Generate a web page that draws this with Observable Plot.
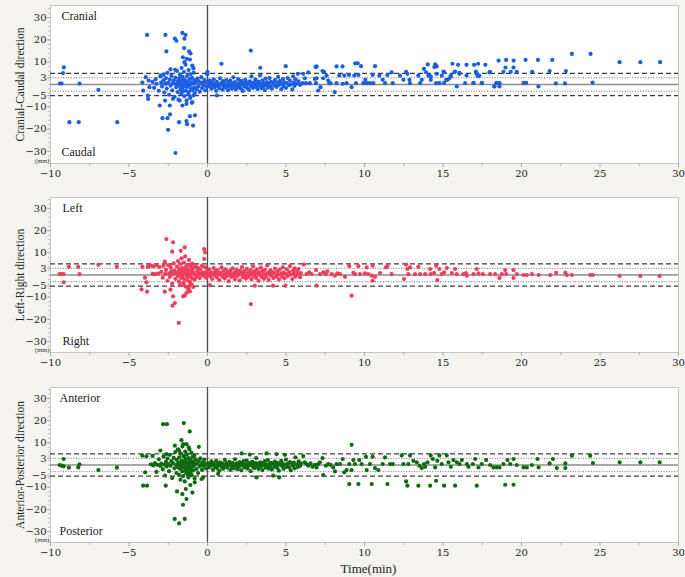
<!DOCTYPE html>
<html><head><meta charset="utf-8">
<script src="https://cdn.jsdelivr.net/npm/d3@7"></script>
<script src="https://cdn.jsdelivr.net/npm/@observablehq/plot@0.6"></script>
<style>
body{margin:0;background:#f4f3ef;}
#chart{position:relative;width:685px;height:577px;background:#f4f3ef;overflow:hidden;}
#chart svg{position:absolute;left:0;}
</style></head><body><div id="chart"></div>
<script>
// ---- axis ticks ----
const xTicks = [-10,-5,0,5,10,15,20,25,30];
const xMinorTicks = [-7.5,-2.5,2.5,7.5,12.5,17.5,22.5,27.5];
const yTicks = [30,20,10,3,-5,-10,-20,-30];
const yMinorTicks = [-34,-32,-30,-28,-26,-24,-22,-20,-18,-16,-14,-12,-10,-8,-6,-4,-2,0,2,4,6,8,10,12,14,16,18,20,22,24,26,28,30,32,34];
const meanLine = [0];
const innerLimits = [3,-3];
const outerLimits = [5,-5];

// ---- Cranial-Caudal (time in min, displacement in mm) ----
const ccPre = [[-9.15,7.7],[-9.2,5.1],[-9.4,0.45],[-9.3,0.45],[-8.15,0.4],[-8.8,-16.9],[-8.2,-16.9],[-6.95,-2.4],[-5.75,-16.9],[-4.15,0.9],[-4.1,-2.7],[-3.93,3.3],[-3.8,-5],[-3.78,-6.5],[-3.7,-1.2],[-3.75,1.8]];
const ccOutliers = [[-3.85,22.2],[-2.68,22.2],[-1.6,23.1],[-1.4,22.2],[-2.08,20.6],[-1.98,19.6],[-1.47,20.5],[-2.62,14.8],[-1.49,16.3],[-1.17,14.8],[-1.08,13.9],[-1.57,12.2],[-1.33,11.5],[-1.12,11.2],[-1.47,10],[-0.97,8.5],[-0.9,7.3],[-2.36,6.8],[-2.06,6.6],[-2.97,4.1],[-2.8,4.4],[-0.03,5],[-3.04,-9.4],[-2.4,-9.4],[-2.7,-7.2],[-2.87,-15.1],[-2.55,-15.1],[-2.39,-13.4],[-2.51,-20.3],[-1.81,-16.9],[-2.04,-30.7],[-1.3,-17.8],[-0.92,-18.4],[-1.34,-16.4],[-1.12,-14.2],[-0.8,-13.8],[-1.6,-9.4],[-1.34,-8.7],[-0.97,-7.9],[-2.2,-6.4],[-1.77,-7.2],[0.89,9.3],[2.76,15.2],[3.36,7.5],[4.98,8.2],[0.6,-4.9],[0.0,5.7]];
const ccCluster = [[-3.5,1.2],[-3.4,-1.5],[-3.3,2.4],[-3.25,0.3],[-3.1,-2.8],[-3.0,3.6],[-2.95,0.8],[-2.9,-0.9],[-2.8,1.9],[-2.75,-3.6],[-2.7,0.4],[-2.65,2.9],[-2.6,-1.8],[-2.55,5.2],[-2.5,0.9],[-2.45,-4.6],[-2.4,2.2],[-2.35,-0.5],[-2.3,3.9],[-2.25,-2.6],[-2.2,0.6],[-2.15,1.8],[-2.1,-5.5],[-2.05,3.1],[-2.0,-1.2],[-1.98,0.2],[-1.95,6.1],[-1.9,-3.4],[-1.88,1.5],[-1.85,-6.8],[-1.8,2.7],[-1.78,-0.6],[-1.75,4.4],[-1.72,-2.2],[-1.7,0.9],[-1.68,-4.1],[-1.65,7.4],[-1.62,1.8],[-1.6,-1.5],[-1.58,3.4],[-1.55,-3.0],[-1.53,0.1],[-1.5,5.6],[-1.48,-5.2],[-1.45,2.1],[-1.43,-0.8],[-1.4,8.9],[-1.38,-2.7],[-1.35,1.3],[-1.33,-7.1],[-1.3,3.8],[-1.28,-1.1],[-1.25,0.6],[-1.23,-4.4],[-1.2,6.5],[-1.18,-3.3],[-1.15,2.4],[-1.13,-0.3],[-1.1,-6.0],[-1.08,4.6],[-1.05,-1.9],[-1.03,1.0],[-1.0,-8.2],[-0.98,3.0],[-0.95,-2.5],[-0.92,0.4],[-0.9,-4.9],[-0.88,5.3],[-0.85,-1.4],[-0.82,1.9],[-0.8,-3.8],[-0.75,0.8],[-0.7,-2.1],[-0.65,2.6],[-0.6,-0.9],[-0.55,1.4],[-0.5,-3.2],[-0.45,0.5],[-0.4,3.3],[-0.35,-1.6],[-0.3,0.9],[-0.25,-0.4],[-0.2,2.0],[-0.15,-2.6],[-0.1,1.1],[-0.05,-1.0],[-0.02,4.6],[-1.62,0.4],[-1.42,0.5],[-1.22,0.3],[-1.02,0.5],[-1.92,0.4],[-2.22,0.5],[-2.62,0.4]];
const ccBand = [[0.05,0.6],[0.1,-0.8],[0.15,1.7],[0.2,0.2],[0.25,-1.9],[0.3,0.9],[0.35,-0.4],[0.4,2.3],[0.45,-1.2],[0.5,0.4],[0.55,-2.8],[0.6,1.2],[0.65,-0.6],[0.7,0.1],[0.75,-1.6],[0.8,2.8],[0.85,-0.2],[0.9,0.8],[0.95,-2.3],[1.0,1.5],[1.05,-0.9],[1.1,0.3],[1.15,-1.4],[1.2,2.0],[1.25,-0.5],[1.3,-2.6],[1.35,0.7],[1.4,-1.1],[1.45,1.8],[1.5,-0.3],[1.55,-1.9],[1.6,0.5],[1.65,3.2],[1.7,-0.8],[1.75,1.1],[1.8,-2.2],[1.85,0.2],[1.9,-1.3],[1.95,2.4],[2.0,-0.6],[2.05,0.9],[2.1,-1.7],[2.15,1.6],[2.2,-0.1],[2.25,-2.9],[2.3,0.6],[2.35,-1.0],[2.4,2.1],[2.45,-0.4],[2.5,1.0],[2.55,-1.8],[2.6,0.3],[2.65,-2.4],[2.7,1.4],[2.75,-0.7],[2.8,3.6],[2.85,0.1],[2.9,-1.5],[2.95,0.8],[3.0,-0.2],[3.05,2.2],[3.1,-1.2],[3.15,0.5],[3.2,-2.0],[3.25,1.3],[3.3,-0.5],[3.35,4.1],[3.4,0.2],[3.45,-1.6],[3.5,1.7],[3.55,-0.9],[3.6,0.6],[3.65,-2.5],[3.7,2.6],[3.75,-0.3],[3.8,1.0],[3.85,-1.4],[3.9,0.4],[3.95,2.9],[4.0,-0.8],[4.05,1.2],[4.1,-1.9],[4.2,0.7],[4.25,-0.4],[4.3,2.0],[4.4,-1.1],[4.45,0.9],[4.5,3.4],[4.55,-0.2],[4.6,1.5],[4.7,-2.1],[4.75,0.3],[4.8,2.4],[4.85,-0.9],[4.9,1.0],[5.0,-1.5],[5.05,0.6],[5.1,2.9],[5.2,-0.3],[5.25,1.8],[5.3,0.1],[5.4,-2.2],[5.45,3.7],[5.5,0.9],[5.55,-0.6],[5.6,2.3],[5.7,0.4],[5.75,4.8],[5.8,1.4],[5.9,-0.2]];
const ccPost = [[6.10,4.8],[6.20,2.8],[6.42,5.4],[6.06,0.6],[6.27,0.6],[6.52,0.6],[6.84,2.5],[6.91,0.6],[6.95,2.8],[7.05,-2.7],[7.20,-1.2],[7.33,6.0],[7.42,5.7],[7.37,2.8],[7.59,4.0],[7.69,1.8],[7.76,0.6],[7.84,0.6],[8.10,-3.4],[8.22,0.6],[8.39,4.0],[8.61,0.3],[8.71,4.0],[8.86,0.6],[9.01,4.3],[9.18,-1.2],[9.35,4.0],[9.46,0.6],[9.61,4.3],[9.93,0.6],[10.05,2.1],[10.16,0.6],[10.35,0.6],[10.52,4.3],[10.56,0.6],[10.95,4.0],[11.16,2.1],[11.31,0.6],[11.46,4.3],[11.80,0.6],[11.73,5.4],[12.26,4.0],[12.48,2.1],[12.65,5.7],[12.73,4.8],[12.9,0.6],[12.86,2.1],[13.43,4.0],[13.54,0.6],[13.65,2.1],[13.79,7.0],[13.92,5.5],[14.07,4.0],[14.22,3.6],[14.22,2.1],[14.56,0.6],[14.6,4.8],[14.77,0.6],[14.92,4.0],[15.07,5.5],[15.2,2.1],[15.3,2.1],[15.5,3.6],[15.73,5.5],[15.88,-0.9],[16.05,4.8],[16.41,0.6],[16.94,0.6],[17.15,4.8],[17.47,0.6],[17.96,5.4],[18.28,-0.9],[18.47,0.6],[18.6,0.6],[6.88,7.8],[6.95,8.1],[8.22,8.1],[8.6,8.1],[9.41,9.5],[9.57,9.5],[9.78,8.2],[10.67,8.2],[14.03,9.0],[14.5,9.0],[14.6,8.1],[14.45,7.8],[15.6,9.3],[15.96,8.8],[16.5,8.8],[16.98,8.8],[17.24,9.3],[17.7,8.8],[18.54,10.7],[19.02,11],[19.5,10.7],[20.26,11],[21.05,11],[21.96,11],[23.21,13.7],[24.4,13.7],[26.25,10],[27.57,10],[28.83,10],[15.03,5.8],[15.77,5.8],[16.05,5.2],[16.5,4.0],[17.1,5.8],[17.2,3.9],[18.0,5.7],[18.85,5.7],[18.98,7.6],[19.32,5.7],[19.49,7.6],[19.7,5.7],[20.68,5.7],[21.79,6.0],[22.83,6.0],[15.07,0.7],[16.94,0.7],[17.48,0.7],[18.39,0.7],[20.13,0.7],[20.3,0.7],[22.19,0.5],[22.77,0.5],[24.53,0.9],[18.26,-0.9],[18.6,-0.9],[21.08,-0.9],[15.4,2.8],[15.5,4.0],[17.32,3.9]];

// ---- Left-Right ----
const lrPre = [[-9.42,0.45],[-9.29,0.45],[-9.16,0.45],[-9.16,-3.3],[-8.83,3.7],[-8.23,3.7],[-8.15,0.4],[-6.95,4.6],[-5.77,3.7],[-4.15,3.7],[-3.98,-1.2],[-3.89,-3.3],[-4.2,-6.5],[-3.85,-7.5],[-3.8,3.7],[-3.7,4.2]];
const lrOutliers = [[-2.62,16.2],[-2.19,14.7],[-2.25,10.5],[-1.7,10.9],[-1.45,12.4],[-0.21,11.7],[-0.15,10.2],[-0.21,7.2],[-2.72,6.0],[-2.4,4.5],[-2.72,-7.5],[-2.36,-6.6],[-2.19,-9.6],[-2.23,-13.8],[-2.08,-12.6],[-1.55,-9.6],[-1.45,-9.3],[-1.83,-21.6],[-1.34,-8.1],[-1.12,-7.4],[-1.23,-6.6],[0.15,-4.5],[2.76,-13.1],[3.02,-4.8],[4.18,-4.8],[4.97,-4.8]];
const lrCluster = [[-3.6,4.2],[-3.5,0.5],[-3.45,3.9],[-3.35,0.4],[-3.25,4.3],[-3.15,0.6],[-3.05,3.6],[-2.95,1.4],[-2.85,-1.2],[-2.8,4.1],[-2.7,0.5],[-2.65,2.3],[-2.55,-2.6],[-2.5,4.4],[-2.45,0.7],[-2.4,-0.9],[-2.35,3.3],[-2.3,1.6],[-2.25,-3.9],[-2.2,0.3],[-2.15,5.2],[-2.1,2.0],[-2.05,-1.7],[-2.0,0.9],[-1.95,3.8],[-1.9,-0.4],[-1.88,6.3],[-1.85,1.5],[-1.82,-2.9],[-1.8,2.7],[-1.78,0.2],[-1.75,-4.6],[-1.72,4.9],[-1.7,1.1],[-1.68,-1.3],[-1.65,7.5],[-1.62,3.1],[-1.6,-0.7],[-1.58,0.6],[-1.55,-3.5],[-1.52,2.2],[-1.5,5.6],[-1.48,-1.8],[-1.45,0.9],[-1.42,8.4],[-1.4,3.6],[-1.38,-5.3],[-1.35,1.8],[-1.33,-0.2],[-1.3,4.5],[-1.28,-2.4],[-1.25,2.6],[-1.22,0.4],[-1.2,-6.2],[-1.18,6.8],[-1.15,1.3],[-1.12,-3.1],[-1.1,3.9],[-1.08,-0.9],[-1.05,2.1],[-1.02,-4.2],[-1.0,0.7],[-0.98,5.1],[-0.95,-1.6],[-0.92,2.9],[-0.9,-5.4],[-0.88,1.0],[-0.85,3.4],[-0.82,-2.0],[-0.8,0.2],[-0.75,4.0],[-0.7,-0.8],[-0.65,1.7],[-0.6,3.2],[-0.55,0.5],[-0.5,-1.4],[-0.45,2.4],[-0.4,0.6],[-0.35,4.1],[-0.3,-0.3],[-0.25,1.2],[-0.2,0.4],[-0.15,3.5],[-0.1,-1.2],[-0.05,0.8],[-0.02,2.2],[-1.62,1.9],[-1.42,2.8],[-1.25,-0.8],[-1.05,4.6],[-1.5,-4.4],[-1.15,-5.0]];
const lrBand = [[0.05,0.4],[0.1,2.6],[0.15,-0.6],[0.2,1.3],[0.25,0.2],[0.3,-1.8],[0.35,0.9],[0.4,3.1],[0.45,-0.2],[0.5,1.6],[0.55,0.5],[0.6,-1.1],[0.65,2.2],[0.7,0.3],[0.75,-2.3],[0.8,1.0],[0.85,0.4],[0.9,3.4],[0.95,-0.7],[1.0,1.8],[1.05,0.1],[1.1,-1.5],[1.15,2.5],[1.2,0.6],[1.25,-0.4],[1.3,1.4],[1.35,-2.8],[1.4,0.8],[1.45,2.0],[1.5,-0.9],[1.55,0.4],[1.6,3.0],[1.65,-0.3],[1.7,1.1],[1.75,-1.9],[1.8,0.7],[1.85,2.4],[1.9,-0.5],[1.95,1.5],[2.0,0.2],[2.05,-2.4],[2.1,1.9],[2.15,0.5],[2.2,3.6],[2.25,-1.0],[2.3,0.9],[2.35,1.7],[2.4,-0.2],[2.45,-1.6],[2.5,2.8],[2.55,0.6],[2.6,-0.8],[2.65,1.3],[2.7,0.1],[2.75,2.2],[2.8,-1.9],[2.85,0.8],[2.9,3.9],[2.95,-0.4],[3.0,1.6],[3.05,0.4],[3.1,-1.3],[3.15,2.5],[3.2,0.7],[3.25,-2.6],[3.3,1.2],[3.35,0.0],[3.4,3.3],[3.45,-0.9],[3.5,1.8],[3.55,0.5],[3.6,-1.7],[3.65,2.3],[3.7,0.2],[3.75,-0.6],[3.8,4.3],[3.85,1.0],[3.9,-2.2],[3.95,0.7],[4.0,2.0],[4.05,-0.3],[4.1,1.4],[4.2,-1.4],[4.25,0.9],[4.3,2.9],[4.4,-0.7],[4.45,1.6],[4.5,0.3],[4.55,-2.0],[4.6,2.4],[4.7,0.6],[4.75,-0.9],[4.8,3.5],[4.85,1.1],[4.9,-1.5],[5.0,0.4],[5.05,2.6],[5.1,-0.5],[5.2,1.3],[5.25,4.0],[5.3,0.2],[5.4,-1.8],[5.45,1.9],[5.5,0.6],[5.55,3.0],[5.6,-0.7],[5.7,1.5],[5.75,0.3],[5.8,2.7],[5.9,-1.0],[5.95,0.9]];
const lrPost = [[6.14,4.7],[6.31,0.4],[6.48,1.2],[6.63,0.4],[6.91,2.2],[6.95,-4.8],[7.16,0.4],[7.37,1.2],[7.54,0.4],[7.63,1.6],[7.91,0.4],[8.12,-0.3],[8.27,0.7],[8.44,0.4],[8.76,-0.8],[9.03,4.0],[9.18,-9.3],[9.29,1.0],[9.39,0.4],[9.61,4.0],[9.71,0.4],[10.03,0.7],[10.14,3.4],[10.24,0.4],[10.46,-0.3],[10.52,4.2],[10.52,-2.6],[10.67,-0.8],[10.99,0.9],[11.37,3.4],[11.46,4.0],[11.73,0.4],[12.52,-1.8],[12.65,4.7],[12.73,2.7],[12.79,0.4],[12.9,3.4],[13.22,0.4],[13.43,3.7],[13.54,0.4],[13.86,0.4],[14.18,2.7],[14.22,0.4],[14.43,0.9],[14.56,4.2],[14.64,-2.3],[14.77,2.7],[14.92,0.4],[15.07,1.2],[15.24,3.1],[15.56,0.9],[15.77,2.7],[15.88,0.4],[16.3,0.4],[16.47,0.9],[16.52,-0.3],[16.94,0.4],[17.15,2.7],[17.26,0.7],[17.54,0.4],[18.0,0.4],[18.32,0.4],[18.6,-1.3],[18.75,0.4],[18.96,2.2],[19.02,0.4],[19.49,2.2],[19.49,-1.3],[19.7,0.4],[20.13,0.0],[20.34,0.0],[20.66,0.4],[21.09,0.0],[21.83,0.0],[22.21,1.0],[22.79,1.0],[22.89,0.0],[23.21,0.0],[24.38,0.0],[24.55,0.0],[26.25,-0.4],[27.57,-0.4],[28.8,-0.4]];

// ---- Anterior-Posterior ----
const apPre = [[-9.42,0],[-9.29,-0.3],[-9.16,-0.6],[-9.16,2.7],[-8.83,-1.2],[-8.23,-1.1],[-8.15,0.3],[-6.95,-2.3],[-5.77,-1.2],[-4.15,4.2],[-3.89,3.9],[-4.1,-9.3],[-3.85,-9.3],[-3.97,-3.3]];
const apOutliers = [[-2.83,18.4],[-2.58,18.4],[-1.51,18.9],[-1.13,15.1],[-1.66,11.2],[-1.55,9.4],[-1.34,9.4],[-1.19,7.9],[-2.08,8.7],[-1.81,6.5],[-0.55,8.2],[-3.0,6.5],[-2.62,4.9],[-2.66,-9.3],[-1.94,-11.9],[-1.6,-13.1],[-1.38,-10.8],[-0.96,-12.4],[-1.09,-9.0],[-1.34,-15.3],[-1.56,-17.9],[-2.09,-24.3],[-1.81,-26.3],[-1.45,-24.3],[-0.81,-7.8],[-0.38,-6.3],[-0.28,-5.6],[2.17,5.2],[2.7,4.7],[3.76,5.2],[4.4,4.9],[4.93,4.6],[3.12,-5.6],[4.18,-4.8],[4.57,-5.6],[0.68,-4.0]];
const apCluster = [[-3.6,0.3],[-3.5,4.1],[-3.45,-0.2],[-3.35,0.8],[-3.25,-3.1],[-3.2,0.1],[-3.1,2.6],[-3.0,-0.4],[-2.95,0.6],[-2.85,-1.9],[-2.8,3.8],[-2.75,0.2],[-2.7,-4.8],[-2.65,1.4],[-2.6,-0.7],[-2.55,2.9],[-2.5,0.4],[-2.45,-2.8],[-2.4,4.6],[-2.35,-0.3],[-2.3,1.7],[-2.25,-5.9],[-2.2,0.9],[-2.15,3.2],[-2.1,-1.5],[-2.05,5.8],[-2.0,0.1],[-1.98,-3.6],[-1.95,2.3],[-1.9,-0.9],[-1.88,7.1],[-1.85,1.1],[-1.82,-4.4],[-1.8,3.5],[-1.78,-1.6],[-1.75,0.5],[-1.72,-6.6],[-1.7,5.1],[-1.68,-0.4],[-1.65,2.0],[-1.62,-2.9],[-1.6,8.3],[-1.58,0.7],[-1.55,-5.0],[-1.52,3.9],[-1.5,-1.1],[-1.48,1.6],[-1.45,-7.4],[-1.42,6.0],[-1.4,-0.2],[-1.38,2.7],[-1.35,-3.8],[-1.32,0.9],[-1.3,4.8],[-1.28,-2.1],[-1.25,1.3],[-1.22,-5.6],[-1.2,3.1],[-1.18,-0.7],[-1.15,7.0],[-1.12,0.4],[-1.1,-3.3],[-1.08,2.2],[-1.05,-1.3],[-1.02,5.5],[-1.0,-4.6],[-0.98,0.8],[-0.95,3.7],[-0.92,-2.4],[-0.9,1.5],[-0.88,-0.5],[-0.85,4.3],[-0.82,-6.1],[-0.8,0.2],[-0.75,2.5],[-0.7,-1.8],[-0.65,0.9],[-0.6,-3.6],[-0.55,1.8],[-0.5,-0.6],[-0.45,3.0],[-0.4,0.3],[-0.35,-2.2],[-0.3,1.2],[-0.25,-0.4],[-0.2,2.4],[-0.15,0.6],[-0.1,-1.5],[-0.05,0.5],[-1.62,-1.2],[-1.42,-2.6],[-1.26,-1.7],[-1.06,-2.8],[-1.46,4.2],[-1.16,-4.3]];
const apBand = [[0.05,0.2],[0.1,-1.1],[0.15,0.9],[0.2,-0.3],[0.25,1.6],[0.3,0.4],[0.35,-2.1],[0.4,0.7],[0.45,-0.6],[0.5,0.1],[0.55,1.9],[0.6,-1.4],[0.65,0.5],[0.7,-0.2],[0.75,-2.6],[0.8,1.2],[0.85,0.3],[0.9,-0.9],[0.95,0.6],[1.0,-1.7],[1.05,0.0],[1.1,2.3],[1.15,-0.5],[1.2,0.8],[1.25,-1.2],[1.3,0.3],[1.35,-0.1],[1.4,1.4],[1.45,-2.2],[1.5,0.5],[1.55,-0.7],[1.6,0.9],[1.65,-1.5],[1.7,0.2],[1.75,2.6],[1.8,-0.4],[1.85,0.7],[1.9,-1.9],[1.95,0.4],[2.0,-0.8],[2.05,1.3],[2.1,0.1],[2.15,-2.4],[2.2,0.6],[2.25,-0.3],[2.3,1.7],[2.35,-1.1],[2.4,0.3],[2.45,-0.6],[2.5,2.0],[2.55,-1.6],[2.6,0.5],[2.65,-0.2],[2.7,0.9],[2.75,-2.8],[2.8,0.2],[2.85,1.5],[2.9,-0.9],[2.95,0.4],[3.0,-1.4],[3.05,0.8],[3.1,3.1],[3.15,-0.5],[3.2,0.6],[3.25,-1.8],[3.3,0.1],[3.35,1.2],[3.4,-0.7],[3.45,0.5],[3.5,-2.3],[3.55,0.9],[3.6,-0.1],[3.65,1.8],[3.7,-1.2],[3.75,0.3],[3.8,-0.6],[3.85,2.2],[3.9,-1.6],[3.95,0.4],[4.0,-0.4],[4.05,1.0],[4.1,-2.0],[4.2,0.6],[4.25,-0.9],[4.3,1.5],[4.4,0.2],[4.45,-1.3],[4.5,0.8],[4.55,-2.6],[4.6,0.3],[4.7,1.9],[4.75,-0.5],[4.8,0.6],[4.85,-1.7],[4.9,0.1],[5.0,2.4],[5.05,-0.8],[5.1,0.5],[5.2,-1.1],[5.25,1.3],[5.3,-2.4],[5.4,0.4],[5.45,-0.3],[5.5,1.1],[5.55,-1.5],[5.6,3.5],[5.7,0.2],[5.75,-0.9],[5.8,1.6],[5.9,-0.4],[5.95,0.7]];
const apPost = [[6.1,4.0],[6.2,1.2],[6.31,0.4],[6.42,-0.3],[6.57,0.7],[6.69,-0.8],[6.84,0.1],[6.95,-1.1],[7.05,0.4],[7.16,1.2],[7.33,3.1],[7.37,-4.5],[7.54,-0.3],[7.69,0.4],[7.84,0.1],[8.01,-1.1],[8.12,-2.9],[8.22,0.4],[8.44,0.4],[8.61,2.7],[8.71,-3.3],[8.86,-2.3],[9.03,0.4],[9.03,-8.6],[9.18,9.1],[9.18,-2.3],[9.29,2.2],[9.39,0.4],[9.61,-8.6],[9.67,2.2],[9.82,0.4],[10.09,3.7],[10.14,-2.3],[10.35,0.4],[10.46,-8.6],[10.52,3.7],[10.67,-1.4],[10.88,-2.3],[11.16,0.4],[11.31,3.4],[11.46,-8.6],[11.63,0.4],[11.8,0.4],[12.37,4.3],[12.48,0.4],[12.65,-7.4],[12.73,-9.3],[12.79,0.4],[12.9,4.3],[13.11,1.9],[13.33,1.2],[13.43,-9.3],[13.5,-0.3],[13.65,-1.4],[13.79,0.4],[13.86,-0.8],[14.01,1.2],[14.18,-9.3],[14.22,4.3],[14.35,2.7],[14.5,-1.1],[14.56,-7.1],[14.64,1.9],[14.77,4.3],[14.92,0.4],[15.07,-9.3],[15.24,4.3],[15.35,1.2],[15.5,-0.8],[15.66,2.2],[15.77,-9.3],[15.88,1.2],[16.05,0.4],[16.2,2.2],[16.52,0.4],[16.62,-0.8],[16.9,0.4],[17.05,2.7],[17.15,-9.3],[17.26,-1.1],[17.47,0.4],[17.75,2.2],[18.0,0.0],[18.22,-1.1],[18.43,-1.1],[18.6,-1.1],[18.85,0.4],[18.96,-8.9],[19.11,2.2],[19.28,0.4],[19.49,-8.9],[19.49,2.7],[19.7,0.0],[20.13,-1.1],[20.34,-1.1],[20.66,0.0],[21.02,2.7],[21.09,-1.1],[21.79,0.7],[22.0,2.7],[22.25,-1.4],[22.79,0.7],[22.79,-1.4],[23.21,4.2],[24.38,4.2],[24.55,0.9],[26.25,1.2],[27.57,1.2],[28.8,1.2]];

const panels = [
  {data:[...ccPre,...ccCluster,...ccOutliers,...ccBand,...ccPost], color:"#1c5ee2", title:"Cranial-Caudal direction", up:"Cranial", down:"Caudal", top:0, height:185, mt:5, mb:22, yd:35.4, dx:11},
  {data:[...lrPre,...lrCluster,...lrOutliers,...lrBand,...lrPost], color:"#f03d5b", title:"Left-Right direction", up:"Left", down:"Right", top:185, height:185, mt:12, mb:18, yd:34.9, dx:12},
  {data:[...apPre,...apCluster,...apOutliers,...apBand,...apPost], color:"#0f6a12", title:"Anterior-Posterior direction", up:"Anterior", down:"Posterior", top:375, height:202, mt:12, mb:35, yd:34.9, dx:9, xlabel:"Time(min)"}
];

const serif = "'Liberation Serif', 'DejaVu Serif', serif";
const chart = document.getElementById("chart");
panels.forEach(p => {
  const marks = [
    Plot.frame({fill:"white", stroke:"#c6c6c6"}),
    Plot.ruleY(outerLimits, {stroke:"#3a3a3a", strokeWidth:1.2, strokeDasharray:"5,3"}),
    Plot.ruleY(innerLimits, {stroke:"#6a6a6a", strokeWidth:1, strokeDasharray:"1,1.6"}),
    Plot.ruleY(meanLine, {stroke:"#8c8c8c", strokeWidth:1.6}),
    Plot.ruleX([0], {stroke:"#4d4d4d", strokeWidth:1.3}),
    Plot.dot(p.data, {x:d=>d[0], y:d=>d[1], r:2.1, fill:p.color}),
    Plot.axisX(xMinorTicks, {tickSize:3, tickFormat:()=>"", stroke:"#b5b5b5"}),
    Plot.axisX(xTicks, {tickSize:4, tickPadding:2, stroke:"#a8a8a8", fill:"#222", fontSize:10, fontFamily:"'DejaVu Serif', serif"}),
    Plot.axisY(yMinorTicks, {tickSize:2, tickFormat:()=>"", stroke:"#c0c0c0"}),
    Plot.axisY(yTicks, {tickSize:3, tickPadding:1, stroke:"#a8a8a8", fill:"#222", fontSize:10, fontFamily:"'DejaVu Serif', serif"}),
    Plot.text([p.title], {frameAnchor:"left", dx:-30, rotate:-90, textAnchor:"middle", lineAnchor:"middle", fontSize:11.5, fontFamily:serif, fill:"#222"}),
    Plot.text([p.up], {frameAnchor:"top-left", dx:p.dx, dy:11, textAnchor:"start", lineAnchor:"middle", fontSize:12, fontFamily:serif, fill:"#222"}),
    Plot.text([p.down], {frameAnchor:"bottom-left", dx:p.dx, dy:-11, textAnchor:"start", lineAnchor:"middle", fontSize:12, fontFamily:serif, fill:"#222"}),
    Plot.text(["(mm)"], {frameAnchor:"bottom-left", dx:-1, dy:-3, textAnchor:"end", lineAnchor:"middle", fontSize:6.5, fontFamily:serif, fill:"#333"})
  ];
  if (p.xlabel) marks.push(Plot.text([p.xlabel], {frameAnchor:"bottom", dy:26, lineAnchor:"middle", fontSize:13, fontFamily:serif, fill:"#222", dx:4}));
  const svg = Plot.plot({
    width:685, height:p.height,
    marginLeft:50, marginRight:7, marginTop:p.mt, marginBottom:p.mb,
    style:{background:"transparent", fontFamily:"'DejaVu Serif', serif", fontSize:"10px", overflow:"visible"},
    x:{domain:[-10,30], label:null},
    y:{domain:[-p.yd,p.yd], label:null},
    marks
  });
  svg.style.top = p.top + "px";
  chart.appendChild(svg);
});
</script></body></html>
